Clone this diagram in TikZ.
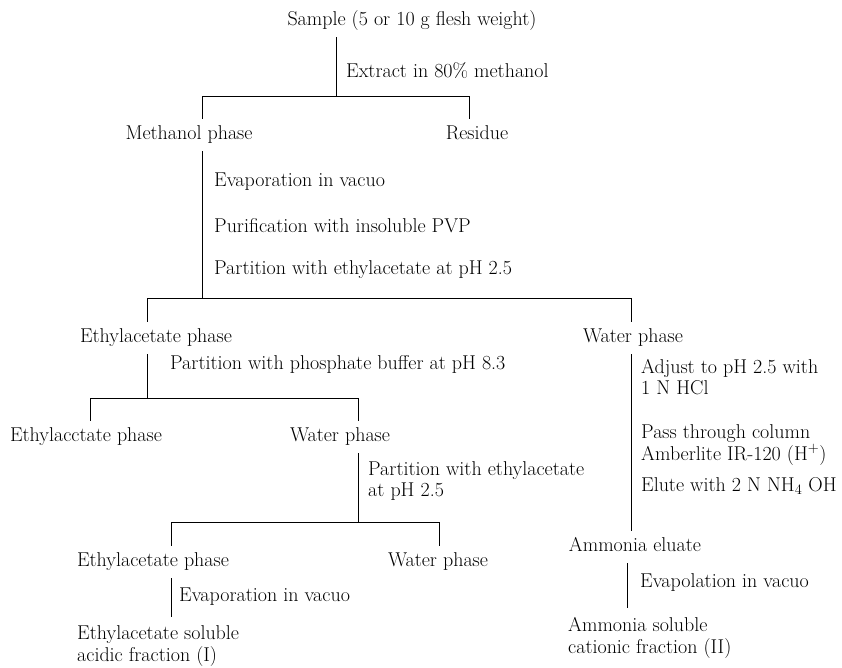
\documentclass[tikz,border=0pt]{standalone}
\usepackage{fontspec}
\usetikzlibrary{positioning}
\newcommand{\flowfont}{\fontsize{20}{21.5}\selectfont}
\tikzset{
  phase/.style={inner sep=7pt,text height=14pt,text depth=4.5pt,font=\flowfont},
  result/.style={anchor=west,align=left,inner sep=9pt,font=\flowfont},
  note/.style={anchor=west,align=left,inner sep=0pt,font=\flowfont},
  link/.style={line width=1pt}
}

\begin{document}
\begin{tikzpicture}[x=1pt,y=-1pt]
       \useasboundingbox (0,0) rectangle (842,668);
       % top level
       \node[phase] (sample) at (412,21) {Sample (5 or 10 g flesh weight)};
       \node[phase] (mph) at (189,135) {Methanol phase};
       \node[phase] (res) at (477,135) {Residue};
       \coordinate (j1) at (336,97);
       \coordinate (b1l) at (202,97);
       \coordinate (b1r) at (469,97);
       \node[note] (extract) at (346,71) {Extract in 80\% methanol};
       \draw[link] (sample.south -| j1) -- (j1);
       \draw[link] (b1l |- mph.north) -- (b1l) -- (b1r) -- (b1r |- res.north);

       % methanol phase
       \coordinate (j2) at (202,298);
       \coordinate (b2l) at (147,298);
       \coordinate (b2r) at (631,298);
       \node[note] (evap1) at (214,182) {Evaporation in vacuo};
       \node[note] (pvp) at (214,226) {Purification with insoluble PVP};
       \node[note] (part1) at (214,270) {Partition with ethylacetate at pH 2.5};
       \node[phase] (eph1) at (156,338) {Ethylacetate phase};
       \node[phase] (wph1) at (633,338) {Water phase};
       \draw[link] (mph.south -| j2) -- (j2);
       \draw[link] (b2l |- eph1.north) -- (b2l) -- (b2r) -- (b2r |- wph1.north);

       % ethylacetate phase
       \coordinate (j3) at (147,398);
       \coordinate (b3l) at (90,398);
       \coordinate (b3r) at (358,398);
       \node[note] (part2) at (170,364) {Partition with phosphate buffer at pH 8.3};
       \node[phase] (eph2) at (86,437) {Ethylacctate phase};
       \node[phase] (wph2) at (340,437) {Water phase};
       \draw[link] (eph1.south -| j3) -- (j3);
       \draw[link] (b3l |- eph2.north) -- (b3l) -- (b3r) -- (b3r |- wph2.north);

       % water phase after buffer
       \coordinate (j4) at (358,522);
       \coordinate (b4l) at (171,522);
       \coordinate (b4r) at (439,522);
       \node[note] (part3) at (368,481) {Partition with ethylacetate\\at pH 2.5};
       \node[phase] (eph3) at (153,562) {Ethylacetate phase};
       \node[phase] (wph3) at (438,562) {Water phase};
       \node[note] (evap2) at (179,597) {Evaporation in vacuo};
       \node[result] (acid) at (68,646) {Ethylacetate soluble\\acidic fraction (I)};
       \draw[link] (wph2.south -| j4) -- (j4);
       \draw[link] (b4l |- eph3.north) -- (b4l) -- (b4r) -- (b4r |- wph3.north);
       \draw[link] (eph3.south -| b4l) -- (b4l |- acid.north);

       % water phase after ethylacetate
       \node[note] (adjust) at (641,377) {Adjust to pH 2.5 with\\1 N HCl};
       \node[note] (column) at (641,445) {Pass through column\\Amberlite IR-120 (H$^+$)};
       \node[note] (elute) at (641,486) {Elute with 2 N NH$_4$ OH};
       \node[phase] (elu) at (635,547) {Ammonia eluate};
       \node[note] (evap3) at (640,583) {Evapolation in vacuo};
       \node[result] (cat) at (559,638) {Ammonia soluble\\cationic fraction (II)};
       \draw[link] (wph1.south -| b2r) -- (b2r |- elu.north);
       \draw[link] (elu.south -| 627,0) -- (cat.north -| 627,0);
\end{tikzpicture}
\end{document}
